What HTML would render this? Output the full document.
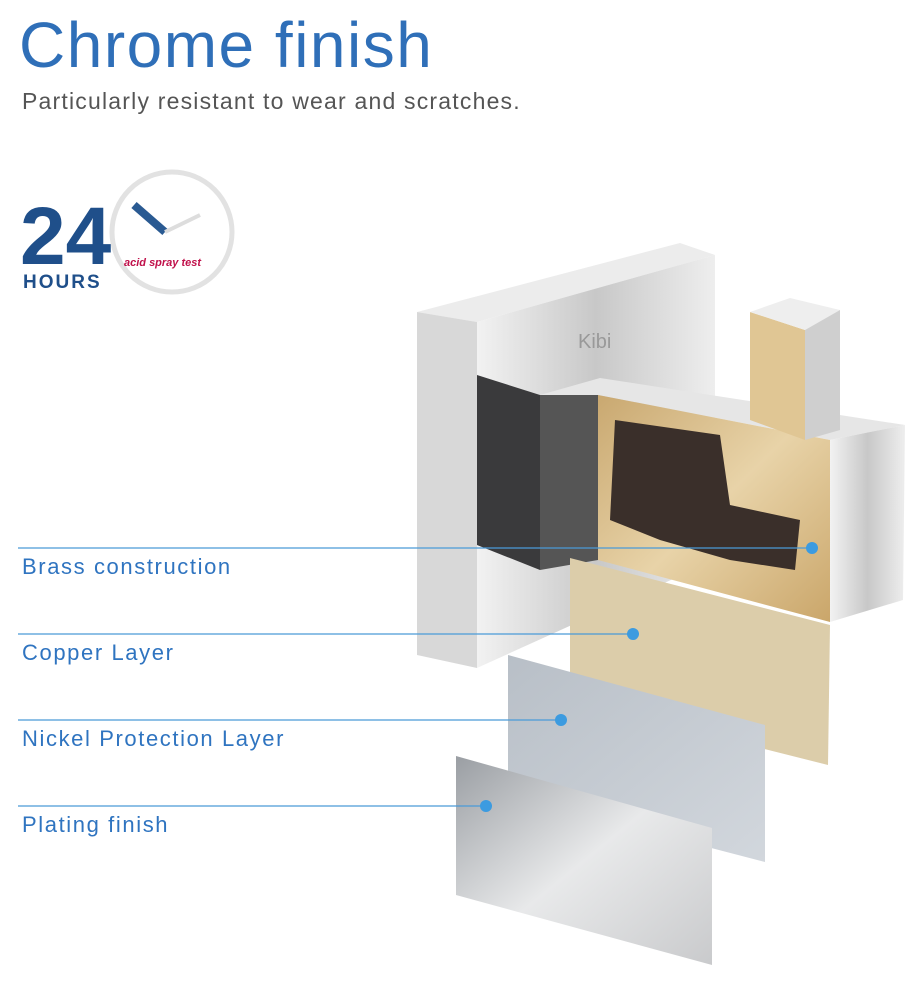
<!DOCTYPE html>
<html><head><meta charset="utf-8"><style>
body{margin:0;width:922px;height:990px;background:#fff;overflow:hidden;position:relative;font-family:"Liberation Sans",sans-serif}
.t{position:absolute;left:19px;top:8px;font-size:64px;color:#2f6fb8;letter-spacing:1.5px}
.s{position:absolute;left:22px;top:88px;font-size:23px;color:#555;letter-spacing:1.2px}
.l{position:absolute;left:22px;font-size:22px;color:#2f74c0;letter-spacing:1.6px}
</style></head><body>
<div class="t">Chrome finish</div>
<div class="s">Particularly resistant to wear and scratches.</div>
<svg width="922" height="990" style="position:absolute;left:0;top:0">
<defs>
<linearGradient id="sil" x1="0" x2="1"><stop offset="0" stop-color="#f2f2f2"/><stop offset=".5" stop-color="#c8c8c8"/><stop offset="1" stop-color="#eee"/></linearGradient>
<linearGradient id="pl" x1="0" y1="0" x2="1" y2="1"><stop offset="0" stop-color="#9a9ea3"/><stop offset=".5" stop-color="#e8e9ea"/><stop offset="1" stop-color="#c9cacc"/></linearGradient>
<linearGradient id="ni" x1="0" y1="0" x2="1" y2="1"><stop offset="0" stop-color="#b8bfc7"/><stop offset="1" stop-color="#d2d7dd"/></linearGradient>
<linearGradient id="br" x1="0" y1="0" x2="1" y2="1"><stop offset="0" stop-color="#c9a870"/><stop offset=".5" stop-color="#e8d3a8"/><stop offset="1" stop-color="#caa66a"/></linearGradient>
</defs>
<circle cx="172" cy="232" r="60" fill="none" stroke="#e2e2e2" stroke-width="5"/>
<line x1="134" y1="205" x2="165" y2="232" stroke="#2a5a92" stroke-width="8"/>
<line x1="165" y1="232" x2="200" y2="215" stroke="#ddd" stroke-width="4"/>
<text x="20" y="264" font-size="82" font-weight="bold" fill="#1f4f8a" font-family="Liberation Sans">24</text>
<text x="23" y="288" font-size="19" font-weight="bold" fill="#1f4f8a" letter-spacing="2">HOURS</text>
<text x="124" y="266" font-size="11" font-style="italic" font-weight="bold" fill="#c0104a">acid spray test</text>
<polygon points="417,312 680,243 715,255 477,322" fill="#ececec"/>
<polygon points="477,322 715,255 715,560 477,668" fill="url(#sil)"/>
<polygon points="417,312 477,322 477,668 417,655" fill="#d8d8d8"/>
<polygon points="477,375 540,395 540,570 477,545" fill="#3a3a3c"/>
<polygon points="540,395 600,378 905,425 830,440 598,395" fill="#e6e6e6"/>
<polygon points="540,395 598,395 598,560 540,570" fill="#555"/>
<polygon points="830,440 905,425 903,600 830,622" fill="url(#sil)"/>
<polygon points="598,395 830,440 830,622 598,560" fill="url(#br)"/>
<polygon points="615,420 720,435 730,505 800,520 795,570 730,560 660,540 610,520" fill="#3a2f2a"/>
<polygon points="750,312 805,330 805,440 750,420" fill="#e0c694"/>
<polygon points="750,312 790,298 840,310 805,330" fill="#eee"/>
<polygon points="805,330 840,310 840,430 805,440" fill="#cfcfcf"/>
<text x="578" y="348" font-size="20" fill="#999">Kibi</text>
<polygon points="570,558 830,625 828,765 570,700" fill="#dccdaa"/>
<polygon points="508,655 765,725 765,862 508,795" fill="url(#ni)"/>
<polygon points="456,756 712,828 712,965 456,895" fill="url(#pl)"/>
<g stroke="#4a9ad8" stroke-width="1.2">
<line x1="18" y1="548" x2="812" y2="548"/><line x1="18" y1="634" x2="633" y2="634"/>
<line x1="18" y1="720" x2="561" y2="720"/><line x1="18" y1="806" x2="486" y2="806"/>
</g>
<g fill="#3c9be0"><circle cx="812" cy="548" r="6"/><circle cx="633" cy="634" r="6"/><circle cx="561" cy="720" r="6"/><circle cx="486" cy="806" r="6"/></g>
</svg>
<div class="l" style="top:554px">Brass construction</div>
<div class="l" style="top:640px">Copper Layer</div>
<div class="l" style="top:726px">Nickel Protection Layer</div>
<div class="l" style="top:812px">Plating finish</div>
</body></html>
